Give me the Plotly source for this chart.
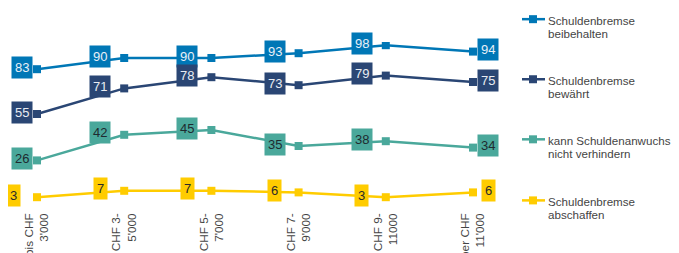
import plotly.graph_objects as go

categories = ["bis CHF<br>3'000", "CHF 3-<br>5'000", "CHF 5-<br>7'000", "CHF 7-<br>9'000", "CHF 9-<br>11000", "über CHF<br>11'000"]
series_names = ["Schuldenbremse<br>beibehalten", "Schuldenbremse<br>bewährt",
                "kann Schuldenanwuchs<br>nicht verhindern", "Schuldenbremse<br>abschaffen"]
beibehalten = [83, 90, 90, 93, 98, 94]
bewaehrt = [55, 71, 78, 73, 79, 75]
kann_nicht = [26, 42, 45, 35, 38, 34]
abschaffen = [3, 7, 7, 6, 3, 6]

values = [beibehalten, bewaehrt, kann_nicht, abschaffen]
colors = ["#0077B6", "#2A4674", "#4AA89B", "#FFCC00"]
text_colors = ["#E8F0F8", "#E8ECF2", "#1E2B30", "#2A2A2A"]

FONT = "Liberation Sans"
W, H = 671, 245          # page body has an 8px margin
PL, PR, PT, PB = 0, 502, 33.8, 193.6   # plot area in figure pixels
OFF = 8


def px(xpage):
    return (xpage - OFF - PL) / (PR - PL)


def py(ypage):
    return 1 - (ypage - OFF - PT) / (PB - PT)


fig = go.Figure()
xs = list(range(len(categories)))
for i, (name, vals, c) in enumerate(zip(series_names, values, colors)):
    fig.add_trace(go.Scatter(
        x=xs, y=vals, mode="lines+markers", name=name.replace("<br>", " "),
        line=dict(color=c, width=2.5),
        marker=dict(symbol="square", size=8, color=c),
        showlegend=False,
    ))
    for j, v in enumerate(vals):
        last = j == len(vals) - 1
        if last:
            xshift = 15
        elif j == 0 and v >= 10:
            xshift = -15
        else:
            xshift = -24
        fig.add_annotation(
            x=j, y=v, text=str(v), showarrow=False,
            xanchor="center", xshift=xshift, yshift=2,
            font=dict(size=13, color=text_colors[i], family=FONT),
            bgcolor=c, borderpad=3,
        )

# manual legend (right side), positions in page pixels
leg_y = [19, 79, 139, 200]
for i, (name, c) in enumerate(zip(series_names, colors)):
    y = leg_y[i]
    for k, line in enumerate(name.split("<br>")):
        fig.add_annotation(
            xref="paper", yref="paper", x=px(546), y=py(y + 1.5 + 13 * k),
            text=line, showarrow=False, xanchor="left", yanchor="middle", align="left",
            font=dict(size=11.6, color="#444444", family=FONT),
        )
    fig.add_shape(type="line", xref="paper", yref="paper",
                  x0=px(522), x1=px(545), y0=py(y), y1=py(y),
                  line=dict(color=c, width=2.5))
    fig.add_shape(type="rect", xref="paper", yref="paper",
                  x0=px(529), x1=px(537), y0=py(y - 4), y1=py(y + 4),
                  line=dict(width=0), fillcolor=c)

fig.update_layout(
    width=W, height=H,
    margin=dict(l=PL, r=W - PR, t=PT, b=H - PB, autoexpand=False),
    paper_bgcolor="white", plot_bgcolor="white",
    font=dict(family=FONT, size=12, color="#444444"),
    showlegend=False,
    xaxis=dict(range=[-29 / 87.2, -29 / 87.2 + 502 / 87.2], tickmode="array", tickvals=xs,
               ticktext=categories, tickangle=-90, showgrid=False, zeroline=False,
               showline=False, ticks="", automargin=False, ticklabelstandoff=8,
               tickfont=dict(size=11.8, color="#444444")),
    yaxis=dict(range=[0, 100], visible=False, showgrid=False, zeroline=False),
)

fig.write_html("out.html")
